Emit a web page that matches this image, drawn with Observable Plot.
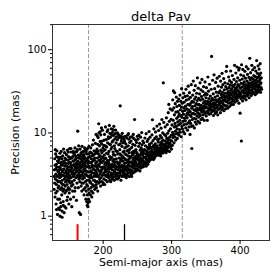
<!DOCTYPE html>
<html><head><meta charset="utf-8">
<script src="https://cdn.jsdelivr.net/npm/d3@7"></script>
<script src="https://cdn.jsdelivr.net/npm/@observablehq/plot@0.6"></script>
<style>body{margin:0;background:#fff}</style>
</head><body><div id="chart"></div>
<script>
const title = "delta Pav";
const xLabel = "Semi-major axis (mas)";
const yLabel = "Precision (mas)";
const xTicks = [200, 300, 400];
const yTicks = [1, 10, 100];
const yMinorTicks = [0.6,0.7,0.8,0.9,2,3,4,5,6,7,8,9,20,30,40,50,60,70,80,90,200];
const dashedLines = [178.7, 315.6];
const redMarker = [162.6];
const blackMarker = [231.2];

// [semi-major axis (mas), precision (mas)]
const leftCloud = [[128.4,2.1],[128.9,3.6],[129.3,4.9],[129.7,1.7],[130.2,2.8],[130.5,5.6],[130.9,3.2],[131.3,1.4],[131.6,4.2],[131.8,2.4],[132.2,3.9],[132.5,6.1],[132.9,2.0],[133.1,3.0],[133.4,4.6],[133.8,1.6],[134.1,2.6],[134.4,5.1],[134.7,3.4],[135.0,1.25],[128.6,3.0],[129.1,2.5],[129.9,4.1],[130.7,1.9],[131.1,3.7],[132.0,5.2],[132.7,2.7],[133.6,3.5],[134.3,2.2],[134.9,4.4],[135.3,3.1],[130.1,6.3],[133.3,1.05],[131.9,1.2],
[135.4,2.3],[135.7,4.8],[136.0,3.3],[136.2,1.6],[136.5,2.9],[136.8,5.7],[137.1,1.0],[137.3,3.8],[137.6,2.1],[137.9,4.4],[138.2,1.3],[138.4,3.0],[138.7,6.0],[139.0,2.5],[139.2,3.6],[139.5,1.8],[139.8,4.9],[140.0,0.97],[140.3,2.7],[140.5,3.4],[140.8,5.3],[141.1,2.0],[141.3,4.1],[141.6,1.5],[141.9,3.1],[142.2,6.4],[142.4,2.4],[142.7,3.7],[143.0,1.1],[143.2,4.6],[143.5,2.8],[143.8,3.3],[144.1,1.9],[144.3,5.0],[144.6,2.3],[144.9,4.0],[135.9,3.9],[136.9,2.6],[137.8,3.2],[138.9,4.1],[139.6,2.2],[140.6,4.5],[141.5,3.6],[142.8,2.1],[143.6,5.8],[144.5,3.0],[136.3,1.2],[138.0,1.45],[139.9,1.15],[141.8,1.35],[143.9,1.3],[140.9,2.4],[142.0,4.3],[137.5,5.1],[135.6,3.6],[139.3,3.1],
[145.1,2.6],[145.3,4.3],[145.6,1.25],[145.9,3.5],[146.1,2.0],[146.4,5.5],[146.7,3.0],[146.9,4.0],[147.2,2.4],[147.5,3.7],[147.8,6.2],[148.0,1.7],[148.3,2.9],[148.6,4.7],[148.8,3.3],[149.1,2.2],[149.4,5.2],[149.6,3.9],[149.9,1.4],[150.2,2.7],[150.4,4.4],[150.7,3.1],[151.0,6.5],[151.2,2.1],[151.5,3.6],[151.8,4.9],[152.0,2.5],[152.3,1.6],[152.6,3.4],[152.9,5.9],[153.1,2.9],[153.4,4.1],[153.7,2.3],[154.0,3.8],[154.2,1.3],[154.5,5.0],[154.8,3.2],[145.8,4.8],[146.6,2.7],[147.6,3.2],[148.4,2.1],[149.2,4.3],[150.0,3.5],[150.9,5.1],[151.6,2.9],[152.4,4.4],[153.3,3.6],[154.3,2.6],[147.0,1.55],[150.5,1.9],[153.0,6.5],[148.9,5.9],[152.7,4.0],[146.2,3.3],[149.7,2.6],
[155.2,3.4],[155.5,5.2],[155.8,2.4],[156.1,4.1],[156.3,6.0],[156.6,3.0],[156.9,1.7],[157.2,4.6],[157.4,3.6],[157.7,2.7],[158.0,5.5],[158.3,4.0],[158.5,3.2],[158.8,6.6],[159.1,2.2],[159.3,4.8],[159.6,3.7],[159.9,5.9],[160.2,2.9],[160.4,4.3],[160.7,3.4],[161.0,1.55],[161.2,5.0],[161.5,3.9],[161.8,2.5],[162.1,4.5],[162.3,6.3],[162.6,3.1],[162.9,10.5],[163.1,3.8],[163.4,5.4],[163.7,2.2],[164.0,4.2],[164.2,7.0],[164.5,3.3],[164.8,5.0],[155.9,4.6],[156.8,3.3],[157.9,4.2],[159.0,3.9],[160.0,5.2],[160.9,4.1],[162.0,3.5],[163.3,4.6],[164.6,2.8],[158.6,2.0],[157.0,5.7],[161.6,6.0],[163.8,3.0],[155.4,2.0],
[165.1,1.1],[165.3,3.6],[165.6,5.3],[165.9,2.6],[166.2,4.4],[166.4,6.4],[166.7,3.1],[167.0,1.05],[167.2,4.9],[167.5,3.8],[167.8,2.3],[168.0,5.8],[168.3,3.4],[168.6,4.6],[168.8,2.0],[169.1,6.9],[169.4,3.9],[169.6,5.1],[169.9,2.8],[170.2,4.2],[170.4,3.3],[170.7,6.0],[171.0,2.5],[171.2,4.8],[171.5,3.6],[171.8,5.5],[172.1,1.8],[172.3,4.0],[172.6,2.9],[172.9,6.6],[173.1,3.7],[173.4,5.0],[173.7,2.2],[174.0,4.5],[174.2,3.2],[174.5,5.9],[174.8,1.6],[165.7,4.0],[166.5,2.9],[167.4,5.6],[168.1,4.1],[169.0,3.1],[169.8,4.5],[170.6,5.4],[171.4,3.0],[172.4,5.2],[173.2,4.3],[174.1,2.6],[173.8,6.2],[166.9,3.5],[168.9,2.5],[170.9,4.0],[172.8,3.5],[174.6,4.0],[171.7,2.1]];

const streak = [[175.1,3.5],[175.3,2.0],[175.6,4.7],[175.9,1.5],[176.1,5.6],[176.3,2.7],[176.6,3.9],[176.8,1.35],[177.1,6.5],[177.3,2.3],[177.6,4.3],[177.8,1.3],[178.1,3.0],[178.3,5.1],[178.6,1.6],[178.8,2.1],[179.1,4.0],[179.3,6.9],[179.6,1.9],[179.8,3.4],[175.8,3.1],[176.7,4.9],[177.5,3.4],[178.4,4.6],[179.4,2.7],[176.0,2.4],[177.0,1.8],[178.0,1.45],[179.0,5.6],[175.4,6.1]];

const midBand = [[180.1,1.5],[180.3,3.8],[180.6,5.2],[180.9,2.6],[181.1,4.4],[181.4,1.8],[181.6,3.1],[181.9,6.6],[182.2,2.2],[182.4,4.9],[182.7,3.5],[183.0,2.0],[183.2,5.7],[183.5,2.9],[183.8,4.1],[184.0,3.3],[184.3,7.2],[184.6,2.4],[184.8,4.6],[185.1,1.9],[185.4,3.7],[185.6,5.4],[185.9,2.7],[186.2,4.0],[186.4,3.0],[186.7,6.1],[187.0,2.3],[187.2,4.7],[187.5,3.6],[187.8,2.1],[188.0,5.0],[188.3,3.2],[188.6,7.5],[188.8,2.6],[189.1,4.3],[189.4,3.5],[189.6,9.6],[189.9,2.4],[180.5,2.9],[181.3,5.9],[182.0,3.4],[182.9,4.4],[183.6,3.9],[184.4,5.3],[185.3,2.3],[186.0,4.8],[186.9,3.3],[187.6,5.6],[188.4,4.0],[189.2,6.0],[190.0,3.0],[183.4,1.7],[185.8,8.2],[187.3,2.7],[181.8,2.5],
[190.2,2.2],[190.5,4.5],[190.8,3.3],[191.0,6.4],[191.3,2.6],[191.6,5.0],[191.9,3.7],[192.1,2.0],[192.4,4.1],[192.7,8.8],[192.9,3.0],[193.2,5.6],[193.5,12.9],[193.7,2.5],[194.0,4.7],[194.3,3.5],[194.6,7.0],[194.8,2.8],[195.1,4.3],[195.4,10.3],[195.6,3.2],[195.9,5.3],[196.2,2.3],[196.4,3.9],[196.7,6.2],[197.0,2.9],[197.2,4.9],[197.5,11.5],[197.8,3.6],[198.0,5.8],[198.3,2.6],[198.6,4.4],[198.8,8.0],[199.1,3.1],[199.4,3.9],[199.7,6.6],[199.9,2.4],[190.6,5.7],[191.7,3.1],[192.5,6.0],[193.4,4.0],[194.4,5.2],[195.2,2.6],[196.0,4.6],[196.9,3.4],[197.6,7.4],[198.5,3.7],[199.3,5.1],[191.4,9.2],[193.9,10.0],[196.5,9.5],[198.9,10.8],[192.2,7.3],[195.7,7.9],[190.9,3.9],
[200.2,2.5],[200.4,4.6],[200.7,3.3],[201.0,7.1],[201.2,2.8],[201.5,5.4],[201.8,3.8],[202.0,9.6],[202.3,2.4],[202.6,4.2],[202.8,6.3],[203.1,3.1],[203.4,11.8],[203.6,3.6],[203.9,5.0],[204.2,2.7],[204.4,8.3],[204.7,4.0],[205.0,3.0],[205.2,6.8],[205.5,3.5],[205.8,10.4],[206.0,2.6],[206.3,4.7],[206.6,7.6],[206.8,3.2],[207.1,5.6],[207.4,3.9],[207.6,9.0],[207.9,2.9],[208.2,4.4],[208.4,6.0],[208.7,3.4],[209.0,12.3],[209.2,3.7],[209.5,5.2],[209.8,2.7],[200.9,3.9],[201.9,4.9],[202.9,3.5],[203.8,4.4],[204.9,5.7],[205.6,4.3],[206.5,3.7],[207.3,4.6],[208.0,8.6],[208.9,4.1],[209.6,7.3],[204.0,3.4],[206.9,10.9],[201.6,8.2],[203.3,7.0],[200.5,6.1],[207.7,3.1],[209.9,9.9],
[210.1,3.0],[210.4,4.8],[210.7,8.9],[211.0,2.6],[211.2,3.8],[211.5,6.4],[211.8,11.2],[212.1,3.3],[212.3,5.1],[212.6,2.8],[212.9,4.2],[213.2,7.8],[213.4,3.6],[213.7,10.2],[214.0,2.9],[214.2,4.6],[214.5,5.9],[214.8,3.2],[215.1,9.3],[215.3,3.9],[215.6,12.0],[215.9,2.7],[216.2,4.4],[216.4,7.0],[216.7,3.4],[217.0,5.4],[217.2,8.5],[217.5,3.0],[217.8,4.0],[218.1,10.8],[218.3,3.7],[218.6,6.1],[218.9,2.8],[219.1,4.9],[219.4,9.0],[219.7,3.3],[210.8,4.1],[211.7,3.1],[212.7,6.8],[213.6,4.0],[214.6,8.1],[215.4,4.8],[216.3,3.5],[217.1,6.5],[218.0,4.5],[219.0,7.6],[219.9,3.9],[213.0,3.0],[215.0,5.5],[217.6,9.8],[212.4,9.6],[210.3,7.3],[214.3,11.0],[216.8,4.1],[218.7,3.2],
[220.2,3.1],[220.5,4.5],[220.8,8.3],[221.0,2.8],[221.3,5.6],[221.6,3.6],[221.9,9.7],[222.1,3.3],[222.4,4.2],[222.7,7.2],[223.0,2.9],[223.2,5.0],[223.5,8.8],[223.8,3.8],[224.1,4.4],[224.3,6.3],[224.6,3.1],[224.9,21.2],[225.2,3.5],[225.5,9.2],[225.7,4.7],[226.0,2.7],[226.3,5.4],[226.6,8.0],[226.8,3.4],[227.1,4.1],[227.4,6.9],[227.7,3.0],[227.9,9.9],[228.2,3.9],[228.5,5.2],[228.8,7.6],[229.0,3.2],[229.3,4.6],[229.6,8.6],[229.9,3.7],[220.6,6.0],[221.5,4.3],[222.5,3.0],[223.4,4.0],[224.4,5.6],[225.3,3.9],[226.2,4.9],[227.2,3.6],[228.0,4.6],[229.1,5.9],[220.9,10.0],[222.9,9.3],[225.0,7.4],[226.9,8.6],[228.6,9.0],[221.8,2.9],[224.0,3.3],[227.6,5.0],[229.4,3.4],
[230.2,3.4],[230.5,5.0],[230.8,8.2],[231.1,3.0],[231.3,4.3],[231.6,6.6],[231.9,3.7],[232.2,9.1],[232.4,3.2],[232.7,4.8],[233.0,7.4],[233.3,3.9],[233.5,5.5],[233.8,2.9],[234.1,4.4],[234.4,8.7],[234.6,3.5],[234.9,6.1],[235.2,3.1],[235.5,4.7],[235.7,9.4],[236.0,3.8],[236.3,5.3],[236.6,7.0],[236.8,3.3],[237.1,4.2],[237.4,8.4],[237.7,3.6],[237.9,5.8],[238.2,3.0],[238.5,4.5],[238.8,7.7],[239.0,4.0],[239.3,6.4],[239.6,3.4],[239.9,8.9],[230.9,4.0],[232.0,5.6],[232.9,3.6],[233.9,6.8],[235.0,4.0],[236.1,4.5],[237.0,6.2],[238.0,4.9],[239.1,5.2],[231.4,7.8],[234.0,3.2],[236.9,9.8],[238.6,3.6],[230.3,6.0],
[240.2,3.6],[240.5,5.1],[240.8,8.0],[241.1,3.2],[241.4,4.5],[241.7,6.7],[241.9,3.9],[242.2,9.0],[242.5,3.5],[242.8,5.4],[243.0,4.1],[243.3,7.3],[243.6,3.3],[243.9,4.8],[244.2,6.0],[244.5,3.8],[244.7,8.6],[245.0,4.3],[245.3,5.7],[245.6,3.4],[245.9,14.5],[246.1,4.6],[246.4,7.1],[246.7,3.7],[247.0,5.2],[247.3,8.2],[247.6,4.0],[247.8,6.3],[248.1,3.5],[248.4,4.9],[248.7,7.7],[249.0,4.2],[249.3,5.8],[249.6,3.7],[249.9,9.1],[240.9,4.4],[242.0,5.8],[243.4,4.4],[244.9,5.0],[246.2,4.1],[247.5,4.5],[248.9,5.3],[241.6,3.0],[244.0,9.6],[246.9,6.1],
[250.2,4.0],[250.5,5.5],[250.8,8.4],[251.1,3.6],[251.4,4.7],[251.7,6.9],[252.0,4.3],[252.3,9.4],[252.6,3.9],[252.9,5.3],[253.2,7.5],[253.4,4.5],[253.7,3.5],[254.0,6.2],[254.3,4.1],[254.6,8.9],[254.9,5.0],[255.2,3.8],[255.4,6.6],[255.7,4.4],[256.0,5.8],[256.3,10.1],[256.6,4.0],[256.8,7.2],[257.1,4.8],[257.4,5.4],[257.7,3.9],[258.0,8.0],[258.3,4.6],[258.6,6.0],[258.9,4.2],[259.2,7.6],[259.5,5.1],[259.8,4.4],[251.0,5.0],[253.0,4.8],[255.0,5.6],[257.0,6.3],[259.0,5.7],[254.4,4.7],
[260.1,4.5],[260.4,6.3],[260.7,4.0],[261.0,8.7],[261.3,5.1],[261.6,4.3],[261.9,7.0],[262.2,5.6],[262.5,4.1],[262.8,9.8],[263.1,4.8],[263.4,6.1],[263.7,4.4],[264.0,5.3],[264.3,7.9],[264.6,4.6],[264.9,6.7],[265.2,4.2],[265.5,5.7],[265.8,8.4],[266.1,4.9],[266.4,6.4],[266.7,4.5],[267.0,10.4],[267.3,5.2],[267.6,7.3],[267.9,4.7],[268.2,5.9],[268.5,8.9],[268.8,5.0],[269.1,6.6],[269.4,4.8],[269.7,5.5],[262.0,5.0],[264.4,5.9],[266.0,5.4],[268.0,6.9],[263.0,4.0],
[270.2,5.3],[270.5,7.6],[270.8,4.9],[271.1,6.2],[271.4,9.5],[271.7,5.5],[272.0,14.4],[272.3,6.8],[272.6,5.1],[272.9,8.1],[273.2,5.8],[273.5,4.8],[273.8,7.1],[274.1,11.2],[274.4,5.4],[274.7,6.5],[275.0,5.0],[275.3,8.6],[275.6,6.0],[275.9,5.6],[276.2,7.4],[276.5,10.3],[276.8,5.3],[277.1,6.8],[277.4,5.9],[277.7,9.0],[278.0,6.3],[278.3,5.5],[278.6,12.1],[278.9,7.0],[279.2,5.8],[279.5,8.3],[279.8,6.5],[271.9,5.9],[276.0,6.9],
[280.1,6.0],[280.4,7.8],[280.7,5.4],[281.0,10.7],[281.3,6.6],[281.6,5.8],[281.9,8.5],[282.2,6.3],[282.5,12.8],[282.8,5.6],[283.1,7.2],[283.4,9.3],[283.7,6.1],[284.0,5.3],[284.3,7.6],[284.6,11.4],[284.9,6.8],[285.2,5.9],[285.5,8.8],[285.8,14.5],[286.1,6.4],[286.4,7.4],[286.7,5.7],[287.0,10.0],[287.3,6.9],[287.6,8.2],[287.9,40.0],[288.2,6.2],[288.5,13.4],[288.8,7.1],[289.1,5.9],[289.4,9.6],[289.7,6.6],[283.0,6.5],[286.0,7.9],
[290.0,7.3],[290.3,6.2],[290.6,11.8],[290.9,8.0],[291.2,6.7],[291.5,9.2],[291.8,5.8],[292.1,7.5],[292.4,15.2],[292.7,6.4],[293.0,8.6],[293.3,7.0],[293.6,12.6],[293.9,6.1],[294.2,9.9],[294.5,7.7],[294.8,6.6],[295.1,17.5],[295.4,8.3],[295.7,6.9],[296.0,10.6],[296.3,7.2],[296.6,13.8],[296.9,6.0],[297.2,8.9],[297.5,7.5],[297.8,19.5],[298.1,6.8],[298.4,11.2],[298.7,8.1],[299.0,7.0],[299.3,14.6],[299.6,9.4],[299.9,6.4],[295.9,22.0]];

const rightCloud = [[300.2,8.0],[300.5,12.5],[300.8,18.8],[301.1,7.1],[301.4,10.2],[301.7,25.0],[302.0,8.8],[302.3,14.2],[302.6,32.0],[302.9,9.6],[303.2,20.0],[303.5,7.6],[303.8,11.8],[304.1,16.5],[304.4,30.5],[304.7,9.0],[305.0,13.0],[305.3,22.5],[305.6,10.5],[305.9,8.2],[306.2,17.8],[306.5,12.0],[306.8,27.0],[307.1,9.8],[307.4,15.0],[307.7,20.8],[308.0,11.2],[308.3,8.6],[308.6,24.0],[308.9,13.6],[309.2,18.0],[309.5,10.0],[309.8,15.8],
[310.1,12.5],[310.4,25.6],[310.7,9.4],[311.0,17.0],[311.3,21.5],[311.6,11.0],[311.9,14.2],[312.2,28.5],[312.5,10.2],[312.8,19.0],[313.1,13.0],[313.4,24.0],[313.7,16.2],[314.0,9.0],[314.3,20.5],[314.6,34.0],[314.9,12.0],[315.2,15.4],[315.5,22.8],[315.8,11.2],[316.1,18.2],[316.4,26.5],[316.7,13.8],[317.0,10.4],[317.3,16.8],[317.6,30.0],[317.9,20.0],[318.2,12.6],[318.5,23.5],[318.8,15.0],[319.1,9.8],[319.4,18.6],[319.7,27.5],
[320.0,14.0],[320.3,21.0],[320.6,11.5],[320.9,33.5],[321.2,16.0],[321.5,24.8],[321.8,12.8],[322.1,19.5],[322.4,17.0],[322.7,15.2],[323.0,28.0],[323.3,10.8],[323.6,17.5],[323.9,22.0],[324.2,36.5],[324.5,13.2],[324.8,19.0],[325.1,25.5],[325.4,11.8],[325.7,16.5],[326.0,30.5],[326.3,14.0],[326.6,21.5],[326.9,9.6],[327.2,18.0],[327.5,26.8],[327.8,13.0],[328.1,22.8],[328.4,15.8],[328.7,38.0],[329.0,12.0],[329.3,19.8],[329.5,6.5],[329.6,17.0],[329.9,24.0],
[330.2,14.5],[330.5,20.8],[330.8,28.5],[331.1,12.2],[331.4,17.2],[331.7,42.0],[332.0,23.5],[332.3,15.0],[332.6,19.0],[332.9,32.5],[333.2,11.5],[333.5,25.5],[333.8,16.8],[334.1,21.2],[334.4,13.5],[334.7,37.0],[335.0,18.5],[335.3,27.0],[335.6,14.8],[335.9,22.5],[336.2,12.8],[336.5,30.0],[336.8,19.8],[337.1,16.0],[337.4,24.5],[337.7,46.0],[338.0,17.5],[338.3,21.8],[338.6,13.8],[338.9,34.5],[339.2,19.0],[339.5,26.0],[339.8,15.5],
[340.1,22.0],[340.4,17.0],[340.7,29.5],[341.0,13.2],[341.3,20.2],[341.6,40.0],[341.9,16.2],[342.2,24.8],[342.5,18.8],[342.8,33.0],[343.1,14.5],[343.4,21.5],[343.7,27.5],[344.0,17.8],[344.3,44.0],[344.6,20.0],[344.9,15.0],[345.2,25.5],[345.5,19.2],[345.8,31.5],[346.1,16.5],[346.4,23.0],[346.7,36.0],[347.0,18.2],[347.3,21.0],[347.6,14.2],[347.9,28.5],[348.2,19.8],[348.5,24.2],[348.8,41.0],[349.1,17.2],[349.4,22.5],[349.7,30.0],
[350.0,20.5],[350.3,26.5],[350.6,16.0],[350.9,35.0],[351.2,22.2],[351.5,18.2],[351.8,29.0],[352.1,14.2],[352.4,24.0],[352.7,20.0],[353.0,47.0],[353.3,17.5],[353.6,22.8],[353.9,31.8],[354.2,19.5],[354.5,25.8],[354.8,16.8],[355.1,21.5],[355.4,38.5],[355.7,18.8],[356.0,23.5],[356.3,20.2],[356.6,27.8],[356.9,17.0],[357.2,22.0],[357.5,19.2],[357.8,33.5],[358.1,24.5],[358.4,83.0],[358.7,21.0],[359.0,18.0],[359.3,26.0],[359.6,20.8],[359.9,43.0],
[360.2,22.5],[360.5,19.0],[360.8,29.5],[361.1,16.2],[361.4,24.8],[361.7,21.2],[362.0,50.0],[362.3,18.5],[362.6,23.0],[362.9,34.0],[363.2,20.0],[363.5,27.0],[363.8,17.2],[364.1,22.2],[364.4,40.5],[364.7,19.8],[365.0,25.0],[365.3,31.0],[365.6,21.5],[365.9,18.0],[366.2,23.8],[366.5,45.5],[366.8,20.5],[367.1,28.0],[367.4,16.5],[367.7,24.2],[368.0,36.5],[368.3,21.8],[368.6,19.2],[368.9,30.5],[369.2,25.5],[369.5,22.0],[369.8,48.0],
[370.1,23.0],[370.4,19.8],[370.7,32.0],[371.0,26.2],[371.3,17.5],[371.6,42.0],[371.9,24.0],[372.2,21.0],[372.5,29.0],[372.8,35.5],[373.1,19.0],[373.4,26.8],[373.7,52.0],[374.0,23.2],[374.3,30.8],[374.6,20.2],[374.9,38.0],[375.2,25.0],[375.5,22.0],[375.8,28.5],[376.1,45.0],[376.4,18.5],[376.7,24.5],[377.0,33.0],[377.3,27.2],[377.6,21.5],[377.9,40.0],[378.2,25.8],[378.5,30.0],[378.8,19.5],[379.1,36.0],[379.4,23.8],[379.7,55.0],
[380.0,27.5],[380.3,21.2],[380.6,63.0],[380.9,33.8],[381.2,24.2],[381.5,29.8],[381.8,19.8],[382.1,39.0],[382.4,26.0],[382.7,31.5],[383.0,22.8],[383.3,47.0],[383.6,28.2],[383.9,35.0],[384.2,24.8],[384.5,20.8],[384.8,42.5],[385.1,30.2],[385.4,26.8],[385.7,37.5],[386.0,23.0],[386.3,55.5],[386.6,32.5],[386.9,28.8],[387.2,21.8],[387.5,40.5],[387.8,25.8],[388.1,34.2],[388.4,30.0],[388.7,49.0],[389.0,24.0],[389.3,37.0],[389.6,27.0],[389.9,31.2],
[390.2,22.0],[390.5,36.2],[390.8,28.0],[391.1,44.0],[391.4,25.2],[391.7,32.2],[392.0,65.0],[392.3,29.5],[392.6,38.5],[392.9,23.5],[393.2,34.0],[393.5,27.2],[393.8,52.5],[394.1,31.0],[394.4,26.0],[394.7,41.5],[395.0,29.0],[395.3,35.5],[395.6,62.0],[395.9,24.5],[396.2,33.0],[396.5,46.0],[396.8,28.5],[397.1,38.0],[397.4,26.8],[397.7,31.8],[398.0,57.0],[398.3,22.8],[398.6,36.8],[398.9,60.0],[399.2,30.5],[399.5,43.0],[399.8,27.8],
[400.1,17.3],[400.4,34.5],[400.7,29.2],[401.0,50.0],[401.3,25.8],[401.6,39.5],[401.9,8.0],[402.2,66.0],[402.5,32.0],[402.8,27.0],[403.1,44.5],[403.4,35.8],[403.7,24.2],[404.0,58.0],[404.3,30.8],[404.6,38.8],[404.9,28.0],[405.2,48.5],[405.5,33.2],[405.8,26.2],[406.1,41.0],[406.4,36.5],[406.7,30.0],[407.0,55.0],[407.3,27.5],[407.6,34.0],[407.9,45.5],[408.2,31.5],[408.5,38.2],[408.8,25.0],[409.1,62.5],[409.4,35.0],[409.7,29.5],
[410.0,42.0],[410.3,33.5],[410.6,27.8],[410.9,50.5],[411.2,37.0],[411.5,31.2],[411.8,59.0],[412.1,29.0],[412.4,40.0],[412.7,34.8],[413.0,46.5],[413.3,26.5],[413.6,38.0],[413.9,32.5],[414.2,79.0],[414.5,36.0],[414.8,43.5],[415.1,30.2],[415.4,53.0],[415.7,39.2],[416.0,33.0],[416.3,28.2],[416.6,46.0],[416.9,37.8],[417.2,65.0],[417.5,31.8],[417.8,41.2],[418.1,35.2],[418.4,57.5],[418.7,29.8],[419.0,44.8],[419.3,38.5],[419.6,33.8],
[420.0,49.0],[420.3,36.8],[420.6,30.5],[420.9,42.5],[421.2,61.0],[421.5,34.0],[421.8,39.8],[422.1,28.8],[422.4,47.5],[422.7,36.2],[423.0,55.5],[423.3,32.2],[423.6,43.0],[423.9,38.0],[424.2,74.0],[424.5,30.0],[424.8,45.8],[425.1,35.5],[425.4,52.0],[425.7,40.8],[426.0,33.5],[426.3,64.0],[426.6,37.2],[426.9,46.8],[427.2,31.5],[427.5,41.5],[427.8,58.5],[428.1,36.0],[428.4,49.5],[428.7,33.0],[429.0,43.8],[429.3,68.0],[429.6,38.8],[429.9,30.8],[430.2,52.5],[430.5,40.0],[430.8,35.0],[431.1,46.0],[431.4,33.5]];

const points = [...leftCloud, ...streak, ...midBand, ...rightCloud].map(([a, p]) => ({a, p}));
const yMin = 0.51, yMax = 201;

const chart = Plot.plot({
  width: 277, height: 277,
  marginTop: 24, marginBottom: 37, marginLeft: 52, marginRight: 8,
  style: {fontFamily: "DejaVu Sans", fontSize: "10px", color: "#000", background: "#fff"},
  x: {domain: [126, 443]},
  y: {type: "log", domain: [yMin, yMax]},
  marks: [
    Plot.ruleX(dashedLines, {stroke: "#999", strokeWidth: 1, strokeDasharray: "4,2"}),
    Plot.dot(points, {x: "a", y: "p", r: 1.6, fill: "#000", stroke: "none"}),
    Plot.ruleX(redMarker, {y1: 0.79, y2: yMin, stroke: "#f00", strokeWidth: 2}),
    Plot.ruleX(blackMarker, {y1: 0.79, y2: yMin, stroke: "#000", strokeWidth: 1.3}),
    Plot.frame({stroke: "#333", strokeWidth: 1}),
    Plot.axisX({ticks: xTicks, tickSize: 4, tickPadding: 2.5, tickFormat: d => String(d), label: null, fontSize: 10}),
    Plot.axisY({ticks: yTicks, tickSize: 4, tickPadding: 2, tickFormat: d => String(d), label: null, fontSize: 10}),
    Plot.axisY({ticks: yMinorTicks, tickSize: 2, tickFormat: () => "", label: null}),
    Plot.text([title], {frameAnchor: "top", dy: -8, lineAnchor: "middle", textAnchor: "middle", fontSize: 13, text: d => d}),
    Plot.text([xLabel], {frameAnchor: "bottom", dy: 22, lineAnchor: "middle", textAnchor: "middle", fontSize: 11, text: d => d}),
    Plot.text([yLabel], {frameAnchor: "left", dx: -37, rotate: -90, lineAnchor: "middle", textAnchor: "middle", fontSize: 11, text: d => d})
  ]
});
document.getElementById("chart").appendChild(chart);
</script></body></html>
